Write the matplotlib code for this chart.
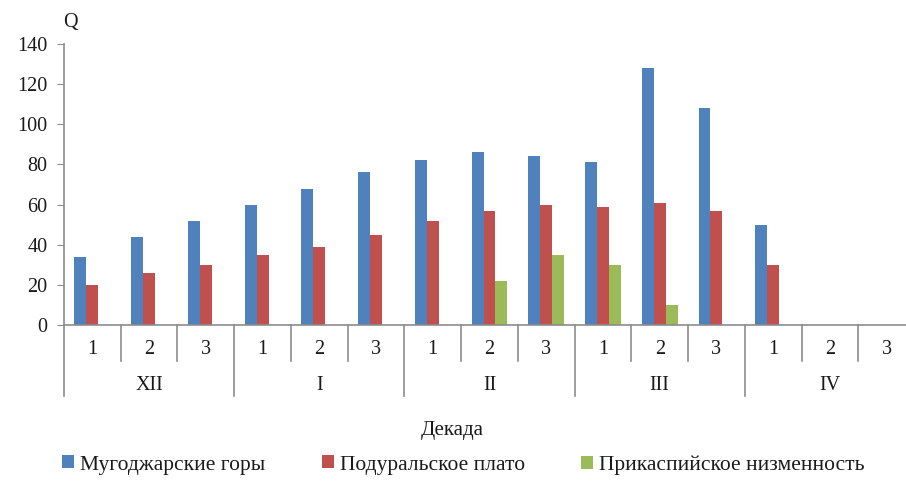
import matplotlib
matplotlib.use("Agg")
import matplotlib.pyplot as plt
from matplotlib.patches import Patch
import numpy as np

plt.rcParams['font.family'] = ['Liberation Serif', 'DejaVu Serif']

months = ["XII", "I", "II", "III", "IV"]
decades = ["1", "2", "3"]
series_names = ["Мугоджарские горы", "Подуральское плато", "Прикаспийское низменность"]
mugodzhary = [34, 44, 52, 60, 68, 76, 82, 86, 84, 81, 128, 108, 50, 0, 0]
podural = [20, 26, 30, 35, 39, 45, 52, 57, 60, 59, 61, 57, 30, 0, 0]
prikaspiy = [0, 0, 0, 0, 0, 0, 0, 22, 35, 30, 10, 0, 0, 0, 0]
colors = ["#4F81BD", "#C0504D", "#9BBB59"]

W, H = 906, 482
fig = plt.figure(figsize=(W / 100, H / 100), dpi=100)
ax = fig.add_axes([64 / W, 1 - 325 / H, (915 - 64) / W, (325 - 44) / H])

n = len(mugodzhary)
x = np.arange(n)
bw = 0.21
for i, (vals, c) in enumerate(zip([mugodzhary, podural, prikaspiy], colors)):
    ax.bar(x + (i - 1) * bw, vals, width=bw, color=c, linewidth=0)

ax.set_xlim(-0.5, n - 0.5)
ax.set_ylim(0, 140)
ax.set_yticks(np.arange(0, 141, 20))
ax.set_xticks([])
for s in ["top", "right"]:
    ax.spines[s].set_visible(False)
for s in ["left", "bottom"]:
    ax.spines[s].set_color("#8c8c8c")
    ax.spines[s].set_linewidth(1.2)
ax.tick_params(axis="y", direction="out", length=5, color="#8c8c8c",
               labelsize=14.5, pad=7, labelcolor="#1a1a1a")

# two-level category axis
trans = ax.get_xaxis_transform()
ax_h = 325 - 44
dec_end = -(360.5 - 325) / ax_h
mon_end = -(396 - 325) / ax_h
for k in range(n + 1):
    xb = k - 0.5
    yend = mon_end if k % 3 == 0 else dec_end
    ax.plot([xb, xb], [0, yend], transform=trans, color="#8c8c8c",
            lw=1.2, clip_on=False)
for k in range(n):
    ax.text(k, -(349 - 325) / ax_h, decades[k % 3], transform=trans,
            ha="center", va="center", fontsize=14.5, color="#1a1a1a")
for m, name in enumerate(months):
    ax.text(3 * m + 1, -(385 - 325) / ax_h, name, transform=trans,
            ha="center", va="center", fontsize=14.5, color="#1a1a1a")

fig.text(452 / W, 1 - 430 / H, "Декада", ha="center", va="center",
         fontsize=15, color="#1a1a1a")
fig.text(70 / W, 1 - 22 / H, "Q", ha="center", va="center",
         fontsize=14.5, color="#1a1a1a")

# legend entries laid out in equal-width slots
slot_x = [62, 322, 581]
for name, c, sx in zip(series_names, colors, slot_x):
    lg = fig.legend([Patch(facecolor=c, edgecolor="none")], [name],
                    loc="center left", bbox_to_anchor=(sx / W, 1 - 465 / H),
                    frameon=False, fontsize=15.5, handlelength=0.55,
                    handleheight=0.55, handletextpad=0.3, borderpad=0,
                    borderaxespad=0)
    for t in lg.get_texts():
        t.set_color("#1a1a1a")

fig.savefig("out.png", dpi=100)
